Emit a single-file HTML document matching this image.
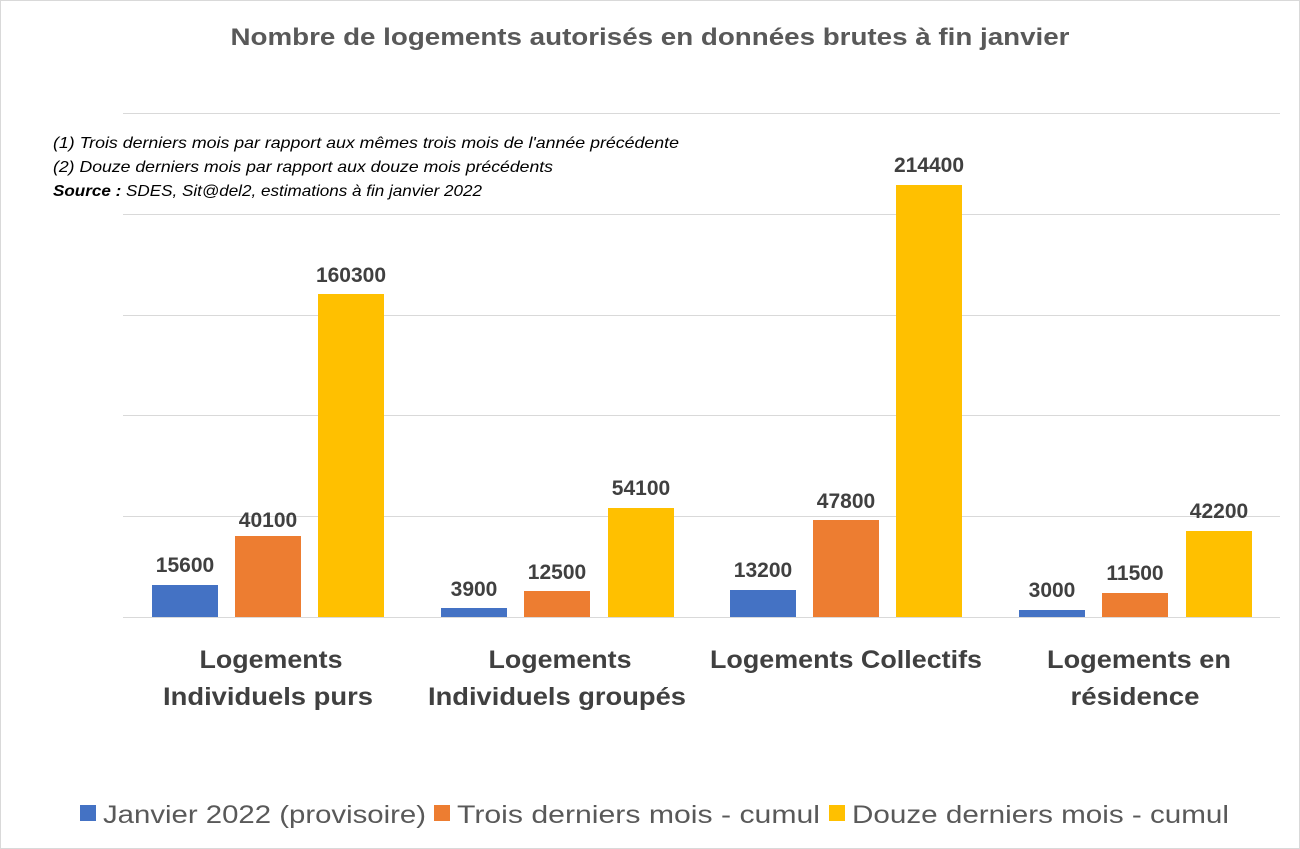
<!DOCTYPE html>
<html><head><meta charset="utf-8"><style>
html,body{margin:0;padding:0;background:#fff;}
svg{display:block;font-family:"Liberation Sans",sans-serif;}
</style></head><body>
<svg width="1300" height="849" viewBox="0 0 1300 849" xmlns="http://www.w3.org/2000/svg">
<rect x="0.5" y="0.5" width="1299" height="848" fill="#fff" stroke="#d9d9d9"/>
<text x="650" y="45" text-anchor="middle" font-size="24" font-weight="bold" fill="#595959" textLength="839" lengthAdjust="spacingAndGlyphs">Nombre de logements autorisés en données brutes à fin janvier</text>
<g stroke="#d9d9d9" stroke-width="1">
<line x1="123" x2="1280" y1="113.5" y2="113.5"/>
<line x1="123" x2="1280" y1="214.5" y2="214.5"/>
<line x1="123" x2="1280" y1="315.5" y2="315.5"/>
<line x1="123" x2="1280" y1="415.5" y2="415.5"/>
<line x1="123" x2="1280" y1="516.5" y2="516.5"/>
<line x1="123" x2="1280" y1="617.5" y2="617.5"/>
</g>
<g font-size="16" font-style="italic" fill="#000">
<text x="53" y="148" textLength="626" lengthAdjust="spacingAndGlyphs">(1) Trois derniers mois par rapport aux mêmes trois mois de l'année précédente</text>
<text x="53" y="172" textLength="500" lengthAdjust="spacingAndGlyphs">(2) Douze derniers mois par rapport aux douze mois précédents</text>
<text x="53" y="196" textLength="429" lengthAdjust="spacingAndGlyphs"><tspan font-weight="bold">Source :</tspan> SDES, Sit@del2, estimations à fin janvier 2022</text>
</g>
<g>
<rect x="152" y="585" width="66" height="32" fill="#4472C4"/>
<rect x="235" y="536" width="66" height="81" fill="#ED7D31"/>
<rect x="318" y="294" width="66" height="323" fill="#FFC000"/>
<rect x="441" y="608" width="66" height="9" fill="#4472C4"/>
<rect x="524" y="591" width="66" height="26" fill="#ED7D31"/>
<rect x="608" y="508" width="66" height="109" fill="#FFC000"/>
<rect x="730" y="590" width="66" height="27" fill="#4472C4"/>
<rect x="813" y="520" width="66" height="97" fill="#ED7D31"/>
<rect x="896" y="185" width="66" height="432" fill="#FFC000"/>
<rect x="1019" y="610" width="66" height="7" fill="#4472C4"/>
<rect x="1102" y="593" width="66" height="24" fill="#ED7D31"/>
<rect x="1186" y="531" width="66" height="86" fill="#FFC000"/>
</g>
<g font-size="21" font-weight="bold" fill="#404040" text-anchor="middle">
<text x="185" y="572">15600</text>
<text x="268" y="527">40100</text>
<text x="351" y="282">160300</text>
<text x="474" y="596">3900</text>
<text x="557" y="579">12500</text>
<text x="641" y="495">54100</text>
<text x="763" y="577">13200</text>
<text x="846" y="508">47800</text>
<text x="929" y="172">214400</text>
<text x="1052" y="597">3000</text>
<text x="1135" y="580">11500</text>
<text x="1219" y="518">42200</text>
</g>
<g font-size="25" font-weight="bold" fill="#404040" text-anchor="middle">
<text x="271" y="668" textLength="143" lengthAdjust="spacingAndGlyphs">Logements</text>
<text x="268" y="705" textLength="210" lengthAdjust="spacingAndGlyphs">Individuels purs</text>
<text x="560" y="668" textLength="143" lengthAdjust="spacingAndGlyphs">Logements</text>
<text x="557" y="705" textLength="258" lengthAdjust="spacingAndGlyphs">Individuels groupés</text>
<text x="846" y="668" textLength="272" lengthAdjust="spacingAndGlyphs">Logements Collectifs</text>
<text x="1139" y="668" textLength="184" lengthAdjust="spacingAndGlyphs">Logements en</text>
<text x="1135" y="705" textLength="129" lengthAdjust="spacingAndGlyphs">résidence</text>
</g>
<g font-size="25" fill="#595959">
<rect x="80" y="805" width="16" height="16" fill="#4472C4"/>
<text x="103" y="823" textLength="323" lengthAdjust="spacingAndGlyphs">Janvier 2022 (provisoire)</text>
<rect x="434" y="805" width="16" height="16" fill="#ED7D31"/>
<text x="457" y="823" textLength="363" lengthAdjust="spacingAndGlyphs">Trois derniers mois - cumul</text>
<rect x="829" y="805" width="16" height="16" fill="#FFC000"/>
<text x="852" y="823" textLength="377" lengthAdjust="spacingAndGlyphs">Douze derniers mois - cumul</text>
</g>
</svg>
</body></html>
